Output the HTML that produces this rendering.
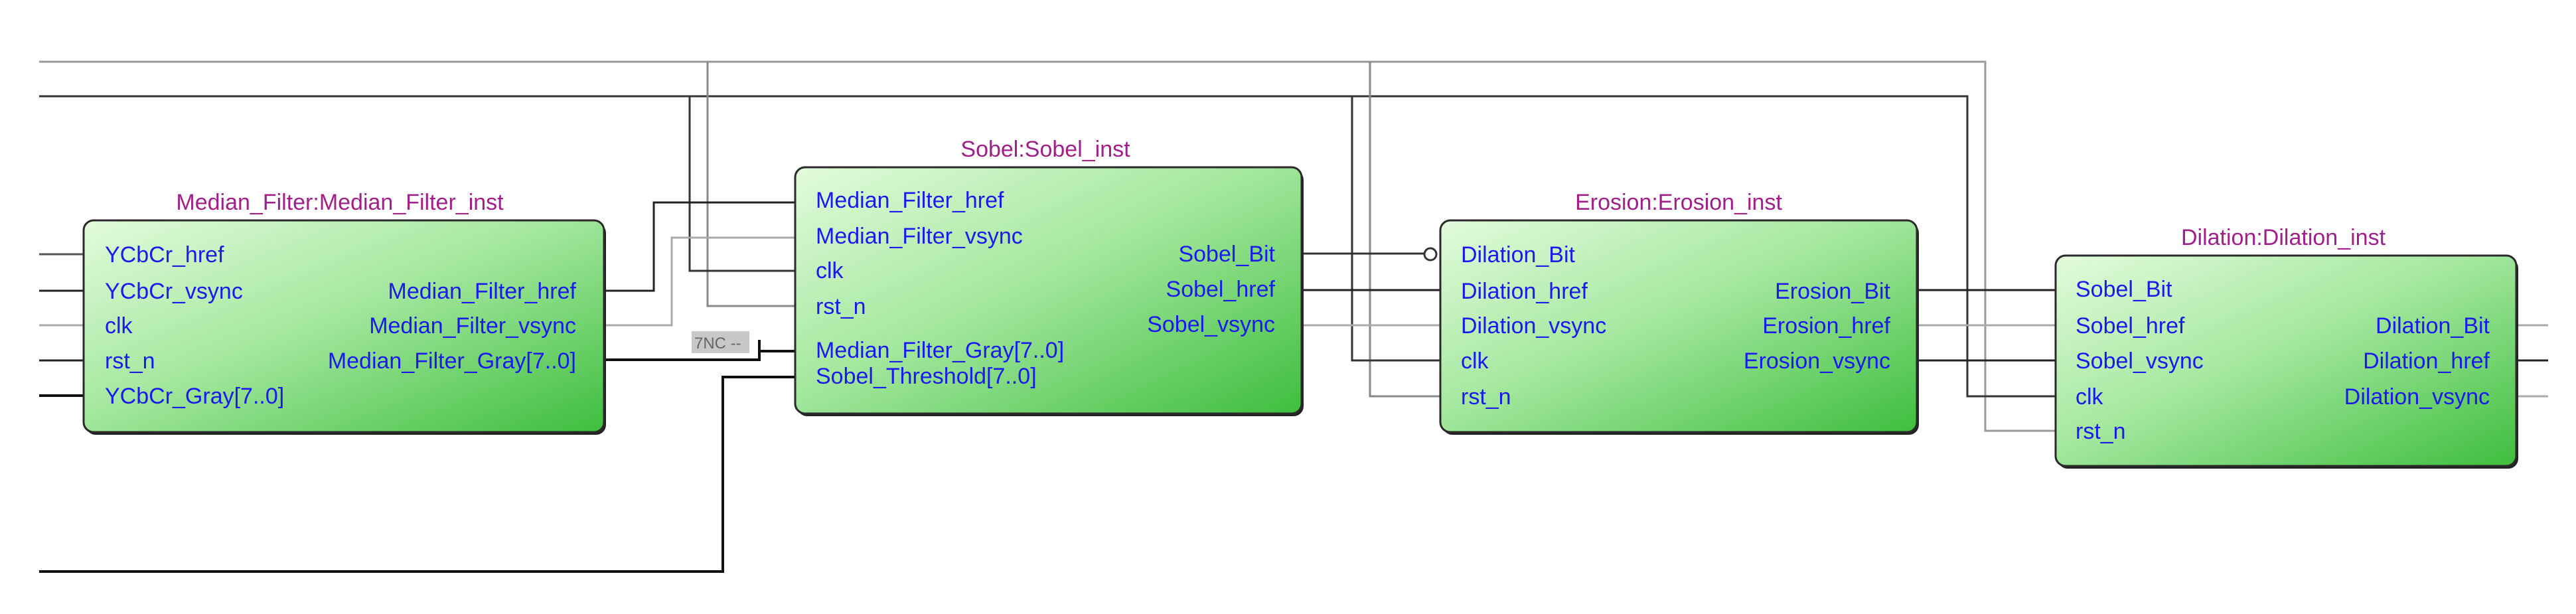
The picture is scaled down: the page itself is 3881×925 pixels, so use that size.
<!DOCTYPE html>
<html><head><meta charset="utf-8"><style>
html,body{margin:0;padding:0;background:#fff;}
svg{display:block;}
text{font-family:"Liberation Sans",Arial,sans-serif;font-size:34px;}
.p{fill:#1a1aee;}
.t{fill:#a0208a;font-size:34px;}
</style></head><body>
<svg width="3881" height="925" viewBox="0 0 3881 925" xmlns="http://www.w3.org/2000/svg">
<defs>
<linearGradient id="g" x1="0" y1="0" x2="1" y2="1">
<stop offset="0" stop-color="#e2fbdc"/>
<stop offset="0.45" stop-color="#a6e8a0"/>
<stop offset="1" stop-color="#3ebe3e"/>
</linearGradient>
</defs>
<g fill="none" stroke-width="3">
<polyline points="59,93 2991,93 2991,649 3097,649" stroke="#999"/>
<polyline points="59,145 2964,145 2964,597 3097,597" stroke="#333"/>
<polyline points="1066,93 1066,461 1198,461" stroke="#888"/>
<polyline points="1039,145 1039,408 1198,408" stroke="#333"/>
<polyline points="2064,93 2064,597 2170,597" stroke="#888"/>
<polyline points="2037,145 2037,543 2170,543" stroke="#333"/>
<line x1="59" y1="383" x2="126" y2="383" stroke="#555"/>
<line x1="59" y1="438" x2="126" y2="438" stroke="#222"/>
<line x1="59" y1="490" x2="126" y2="490" stroke="#aaa"/>
<line x1="59" y1="543" x2="126" y2="543" stroke="#222"/>
<line x1="59" y1="596" x2="126" y2="596" stroke="#111" stroke-width="4"/>
<polyline points="910,438 985,438 985,305 1198,305" stroke="#222"/>
<polyline points="910,490 1012,490 1012,358 1198,358" stroke="#aaa"/>
<polyline points="910,542 1144,542 1144,529 1198,529" stroke="#111" stroke-width="4"/>
<line x1="1144" y1="512" x2="1144" y2="543" stroke="#111" stroke-width="4"/>
<polyline points="59,861 1089,861 1089,568 1198,568" stroke="#111" stroke-width="4"/>
<line x1="1961" y1="382" x2="2146" y2="382" stroke="#333"/>
<circle cx="2155" cy="383" r="9" stroke="#333" fill="#fff"/>
<line x1="1961" y1="437" x2="2170" y2="437" stroke="#222"/>
<line x1="1961" y1="490" x2="2170" y2="490" stroke="#aaa"/>
<line x1="2888" y1="437" x2="3097" y2="437" stroke="#222"/>
<line x1="2888" y1="490" x2="3097" y2="490" stroke="#aaa"/>
<line x1="2888" y1="543" x2="3097" y2="543" stroke="#222"/>
<line x1="3791" y1="490" x2="3839" y2="490" stroke="#aaa"/>
<line x1="3791" y1="543" x2="3839" y2="543" stroke="#222"/>
<line x1="3791" y1="597" x2="3839" y2="597" stroke="#aaa"/>
</g>
<rect x="1042" y="499" width="87" height="33" fill="#c8c8c8"/>
<text x="1046" y="525" style="font-size:24px" fill="#666">7NC --</text>

<g stroke="#2a2a2a" stroke-width="3" fill="url(#g)">
<rect x="129" y="336" width="784" height="319" rx="15" fill="#222" stroke="none"/>
<rect x="126" y="332" width="784" height="319" rx="15"/>
<rect x="1201" y="256" width="763" height="371" rx="15" fill="#222" stroke="none"/>
<rect x="1198" y="252" width="763" height="371" rx="15"/>
<rect x="2173" y="336" width="718" height="319" rx="15" fill="#222" stroke="none"/>
<rect x="2170" y="332" width="718" height="319" rx="15"/>
<rect x="3100" y="389" width="694" height="317" rx="15" fill="#222" stroke="none"/>
<rect x="3097" y="385" width="694" height="317" rx="15"/>
</g>

<text class="t" x="512" y="316" text-anchor="middle">Median_Filter:Median_Filter_inst</text>
<text class="t" x="1575" y="236" text-anchor="middle">Sobel:Sobel_inst</text>
<text class="t" x="2529" y="316" text-anchor="middle">Erosion:Erosion_inst</text>
<text class="t" x="3440" y="369" text-anchor="middle">Dilation:Dilation_inst</text>

<text class="p" x="158" y="395">YCbCr_href</text>
<text class="p" x="158" y="450">YCbCr_vsync</text>
<text class="p" x="158" y="502">clk</text>
<text class="p" x="158" y="555">rst_n</text>
<text class="p" x="158" y="608">YCbCr_Gray[7..0]</text>
<text class="p" x="868" y="450" text-anchor="end">Median_Filter_href</text>
<text class="p" x="868" y="502" text-anchor="end">Median_Filter_vsync</text>
<text class="p" x="868" y="555" text-anchor="end">Median_Filter_Gray[7..0]</text>

<text class="p" x="1229" y="313">Median_Filter_href</text>
<text class="p" x="1229" y="367">Median_Filter_vsync</text>
<text class="p" x="1229" y="419">clk</text>
<text class="p" x="1229" y="473">rst_n</text>
<text class="p" x="1229" y="539">Median_Filter_Gray[7..0]</text>
<text class="p" x="1229" y="578">Sobel_Threshold[7..0]</text>
<text class="p" x="1921" y="394" text-anchor="end">Sobel_Bit</text>
<text class="p" x="1921" y="447" text-anchor="end">Sobel_href</text>
<text class="p" x="1921" y="500" text-anchor="end">Sobel_vsync</text>

<text class="p" x="2201" y="395">Dilation_Bit</text>
<text class="p" x="2201" y="450">Dilation_href</text>
<text class="p" x="2201" y="502">Dilation_vsync</text>
<text class="p" x="2201" y="555">clk</text>
<text class="p" x="2201" y="609">rst_n</text>
<text class="p" x="2848" y="450" text-anchor="end">Erosion_Bit</text>
<text class="p" x="2848" y="502" text-anchor="end">Erosion_href</text>
<text class="p" x="2848" y="555" text-anchor="end">Erosion_vsync</text>

<text class="p" x="3127" y="447">Sobel_Bit</text>
<text class="p" x="3127" y="502">Sobel_href</text>
<text class="p" x="3127" y="555">Sobel_vsync</text>
<text class="p" x="3127" y="609">clk</text>
<text class="p" x="3127" y="661">rst_n</text>
<text class="p" x="3751" y="502" text-anchor="end">Dilation_Bit</text>
<text class="p" x="3751" y="555" text-anchor="end">Dilation_href</text>
<text class="p" x="3751" y="609" text-anchor="end">Dilation_vsync</text>
</svg>
</body></html>
